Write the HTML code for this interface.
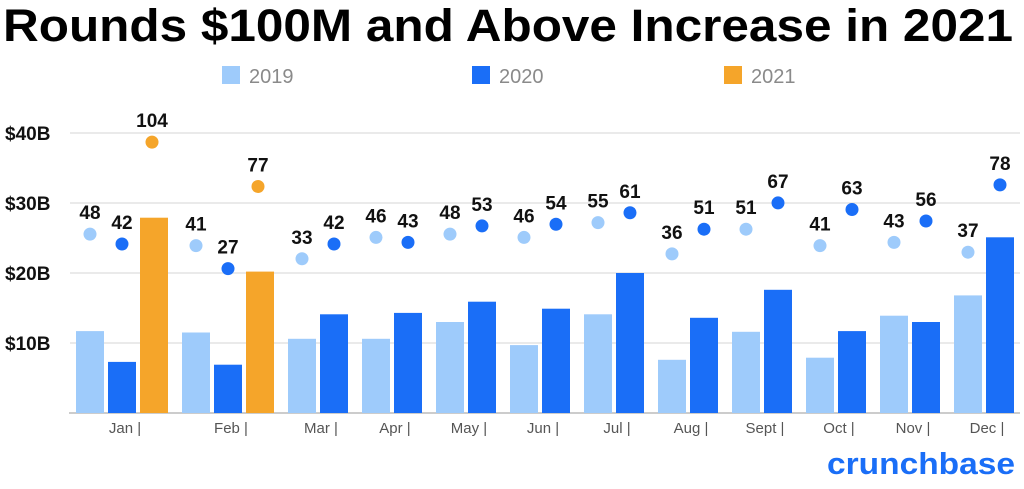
<!DOCTYPE html>
<html><head><meta charset="utf-8"><style>
html,body{margin:0;padding:0;background:#fff;width:1024px;height:489px;overflow:hidden}
svg{display:block;font-family:"Liberation Sans",sans-serif}
</style></head><body>
<svg id="chart" width="1024" height="489" viewBox="0 0 1024 489" xmlns="http://www.w3.org/2000/svg">
<text x="508" y="41" text-anchor="middle" font-size="45" font-weight="bold" fill="#000" textLength="1010" lengthAdjust="spacingAndGlyphs">Rounds $100M and Above Increase in 2021</text>
<g>
<rect x="222" y="66" width="18" height="18" fill="#9ecbfb"/>
<text x="249" y="83" font-size="20" fill="#8a8a8a">2019</text>
<rect x="472" y="66" width="18" height="18" fill="#1a6ef7"/>
<text x="499" y="83" font-size="20" fill="#8a8a8a">2020</text>
<rect x="724" y="66" width="18" height="18" fill="#f5a52a"/>
<text x="751" y="83" font-size="20" fill="#8a8a8a">2021</text>
</g>
<g id="grid"></g><g id="bars"></g><g id="dots"></g><g id="xlabels"></g>
<text x="1015" y="474" text-anchor="end" font-size="31" font-weight="bold" fill="#1a6ef7" textLength="188" lengthAdjust="spacingAndGlyphs">crunchbase</text>
</svg>
<script>
const months=["Jan","Feb","Mar","Apr","May","Jun","Jul","Aug","Sept","Oct","Nov","Dec"];
const amt2019=[11.7,11.5,10.6,10.6,13.0,9.7,14.1,7.6,11.6,7.9,13.9,16.8];
const amt2020=[7.3,6.9,14.1,14.3,15.9,14.9,20.0,13.6,17.6,11.7,13.0,25.1];
const amt2021=[27.9,20.2];
const cnt2019=[48,41,33,46,48,46,55,36,51,41,43,37];
const cnt2020=[42,27,42,43,53,54,61,51,67,63,56,78];
const cnt2021=[104,77];
const yTicks=[10,20,30,40];
const yTickLabels=["$10B","$20B","$30B","$40B"];
const NS="http://www.w3.org/2000/svg";
const y=v=>413-v*7;
const y2=v=>313-v*1.643;
function mk(tag,attrs,parent){const e=document.createElementNS(NS,tag);for(const k in attrs)e.setAttribute(k,attrs[k]);parent.appendChild(e);return e;}
const grid=document.getElementById('grid'),bars=document.getElementById('bars'),dots=document.getElementById('dots'),xl=document.getElementById('xlabels');
yTicks.forEach((t,i)=>{
 const l=mk('line',{x1:70,x2:1020,y1:y(t),y2:y(t),stroke:'#d6d6d6','stroke-width':1},grid);
 
 
 const tx=mk('text',{x:5,y:y(t)+7,'font-size':19,'font-weight':'bold',fill:'#111'},grid);
 tx.textContent=yTickLabels[i];
 
 
});
const base=mk('line',{x1:69,x2:1020,y1:413,y2:413,stroke:'#bbb','stroke-width':1.5},grid);


const W=28,G=4,S=14,colors=['#9ecbfb','#1a6ef7','#f5a52a'];
let x=76;
months.forEach((m,i)=>{
 const vals=[amt2019[i],amt2020[i]],cnts=[cnt2019[i],cnt2020[i]];
 if(i<amt2021.length){vals.push(amt2021[i]);cnts.push(cnt2021[i]);}
 const start=x;
 vals.forEach((v,j)=>{
  const r=mk('rect',{x:x,y:y(v),width:W,height:413-y(v),fill:colors[j]},bars);
  
  
  const cx=x+W/2+(j==2?-2:0),cy=y2(cnts[j]);
  const c=mk('circle',{cx:cx,cy:cy,r:6.5,fill:colors[j]},dots);
  
  
  const t=mk('text',{x:cx,y:cy-15,'text-anchor':'middle','font-size':19,'font-weight':'bold',fill:'#111'},dots);
  t.textContent=cnts[j];
  
  
  x+=W+G;
 });
 const end=x-G;
 const ml=mk('text',{x:(start+end)/2+3,y:433,'text-anchor':'middle','font-size':15,fill:'#555'},xl);
 ml.textContent=m+' |';
 
 
 x=end+S;
});
</script>
</body></html>
